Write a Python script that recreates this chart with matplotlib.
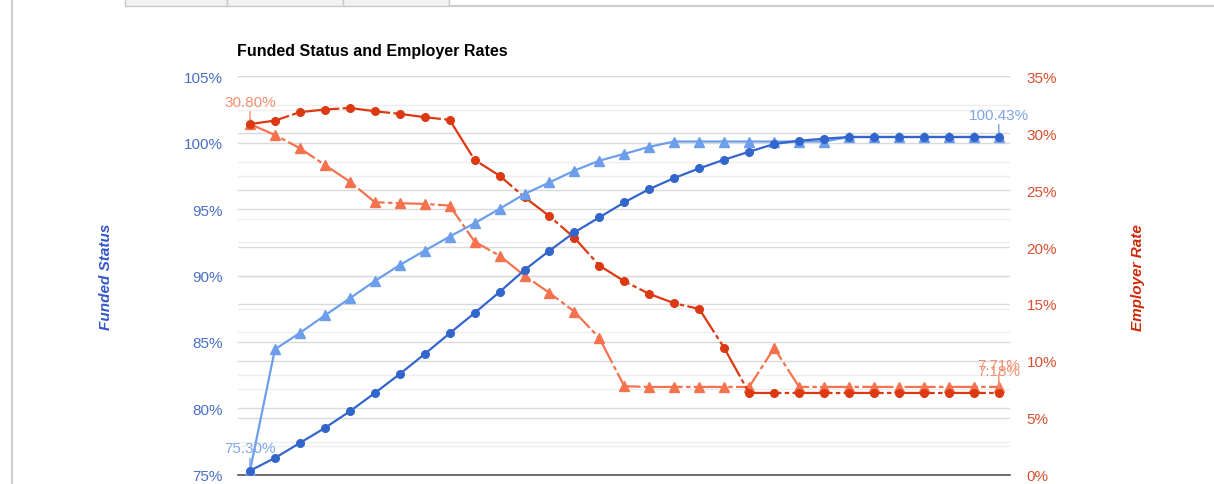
import numpy as np
import matplotlib.pyplot as plt
from matplotlib.lines import Line2D
from matplotlib.patches import Rectangle

plt.rcParams['font.family'] = ['Liberation Sans', 'DejaVu Sans']

# data (31 points)
periods = list(range(31))
funded_a = [75.30, 84.44, 85.68, 86.99, 88.28, 89.58, 90.79, 91.87, 92.93, 93.94,
            95.02, 96.14, 97.01, 97.90, 98.65, 99.16, 99.69, 100.09, 100.09, 100.09,
            100.09, 100.09, 100.09, 100.09, 100.43, 100.43, 100.43, 100.43, 100.43, 100.43, 100.43]
funded_b = [75.30, 76.26, 77.39, 78.52, 79.77, 81.15, 82.58, 84.09, 85.65, 87.18,
            88.76, 90.42, 91.87, 93.25, 94.38, 95.51, 96.51, 97.34, 98.07, 98.72,
            99.32, 99.90, 100.15, 100.30, 100.43, 100.43, 100.43, 100.43, 100.43, 100.43, 100.43]
rate_a = [30.80, 29.85, 28.68, 27.21, 25.75, 23.94, 23.85, 23.79, 23.64, 20.47,
          19.24, 17.49, 15.97, 14.32, 11.99, 7.77, 7.71, 7.71, 7.71, 7.71,
          7.71, 11.13, 7.71, 7.71, 7.71, 7.71, 7.71, 7.71, 7.71, 7.71, 7.71]
rate_b = [30.80, 31.11, 31.85, 32.08, 32.22, 31.93, 31.70, 31.41, 31.17, 27.65,
          26.27, 24.38, 22.71, 20.80, 18.37, 16.99, 15.88, 15.06, 14.56, 11.13,
          7.18, 7.18, 7.18, 7.18, 7.18, 7.18, 7.18, 7.18, 7.18, 7.18, 7.18]
left_ticks = [75, 80, 85, 90, 95, 100, 105]
right_ticks = [0, 5, 10, 15, 20, 25, 30, 35]

c_blue_light = '#6d9eeb'
c_blue_dark = '#3366cc'
c_red_light = '#f4724e'
c_red_dark = '#dc3912'
c_lbl_blue = '#7ea6e6'
c_lbl_red = '#f2906f'

fig = plt.figure(figsize=(12.14, 4.85), dpi=100)

# page frame (tabs + borders)
fig.add_artist(Line2D([12/1214, 12/1214], [0, 1], color='#cfcfcf', lw=1.5))
fig.add_artist(Line2D([449/1214, 1], [1 - 7/485, 1 - 7/485], color='#cccccc', lw=1.5))
for x0, x1 in [(125, 227), (227, 343), (343, 449)]:
    fig.add_artist(Rectangle((x0/1214, 1 - 7/485), (x1 - x0)/1214, 8/485,
                             facecolor='#f2f2f2', edgecolor='#c8c8c8', lw=1))

ax2 = fig.add_axes([238/1214, 9.3/485, 772/1214, 398.4/485])
ax1 = ax2.twinx()
ax1.yaxis.tick_left()
ax2.yaxis.tick_right()
ax1.set_zorder(ax2.get_zorder() + 1)
ax1.patch.set_visible(False)

ax1.set_ylim(75, 105)
ax2.set_ylim(0, 35)
ax1.set_xlim(-0.48, 30.45)

# gridlines, all drawn on the back axes
for r in np.arange(2.5, 35, 5):
    ax2.axhline(r, color='#eeeeee', lw=1, zorder=0)
for r in right_ticks[1:]:
    ax2.axhline(r, color='#dadada', lw=1, zorder=0)
for v in np.arange(77.5, 105, 5):
    ax2.axhline((v - 75) * 35 / 30, color='#eeeeee', lw=1, zorder=0)
for v in left_ticks[1:]:
    ax2.axhline((v - 75) * 35 / 30, color='#dadada', lw=1, zorder=0)

ax2.plot(periods, rate_a, color=c_red_light, lw=1.6, marker='^', ms=7.5,
         dashes=(14, 1.5, 2, 1.5), zorder=3)
ax2.plot(periods, rate_b, color=c_red_dark, lw=1.6, marker='o', ms=5.5,
         dashes=(18, 1.5, 2, 1.5), zorder=3)
ax1.plot(periods, funded_a, color=c_blue_light, lw=1.6, marker='^', ms=7.5, zorder=3)
ax1.plot(periods, funded_b, color=c_blue_dark, lw=1.6, marker='o', ms=5.5, zorder=3)

# first / last value annotations
def label(ax, x, y, color):
    ax.annotate('%.2f%%' % y, xy=(x, y), xytext=(0, 11), textcoords='offset points',
                ha='center', va='bottom', fontsize=11, color=color,
                arrowprops=dict(arrowstyle='-', color=color, lw=1, shrinkA=0, shrinkB=3))

label(ax2, periods[0], rate_a[0], c_lbl_red)
label(ax2, periods[-1], rate_a[-1], c_lbl_red)
label(ax2, periods[-1], rate_b[-1], c_lbl_red)
label(ax1, periods[0], funded_a[0], c_lbl_blue)
label(ax1, periods[-1], funded_a[-1], c_lbl_blue)

ax1.set_yticks(left_ticks)
ax1.set_yticklabels(['%d%%' % v for v in left_ticks])
ax2.set_yticks(right_ticks)
ax2.set_yticklabels(['%d%%' % v for v in right_ticks])
ax1.tick_params(axis='y', length=0, pad=11, labelsize=11, labelcolor='#4a6fc4')
ax2.tick_params(axis='y', length=0, pad=12, labelsize=11, labelcolor='#d9502e')
ax1.set_xticks([])
ax2.set_xticks([])

for a in (ax1, ax2):
    for s in a.spines.values():
        s.set_visible(False)
ax2.spines['bottom'].set_visible(True)
ax2.spines['bottom'].set_color('#555555')
ax2.spines['bottom'].set_linewidth(1.2)

fig.text(237/1214, 1 - 52/485, 'Funded Status and Employer Rates', fontsize=11.5,
         fontweight='bold', color='black', ha='left', va='center')
fig.text(106/1214, 1 - 277/485, 'Funded Status', rotation=90, fontsize=11,
         fontweight='bold', style='italic', color='#3355cc', ha='center', va='center')
fig.text(1138/1214, 1 - 278/485, 'Employer Rate', rotation=90, fontsize=11,
         fontweight='bold', style='italic', color='#cc2a0a', ha='center', va='center')

fig.savefig('out.png', dpi=100)
